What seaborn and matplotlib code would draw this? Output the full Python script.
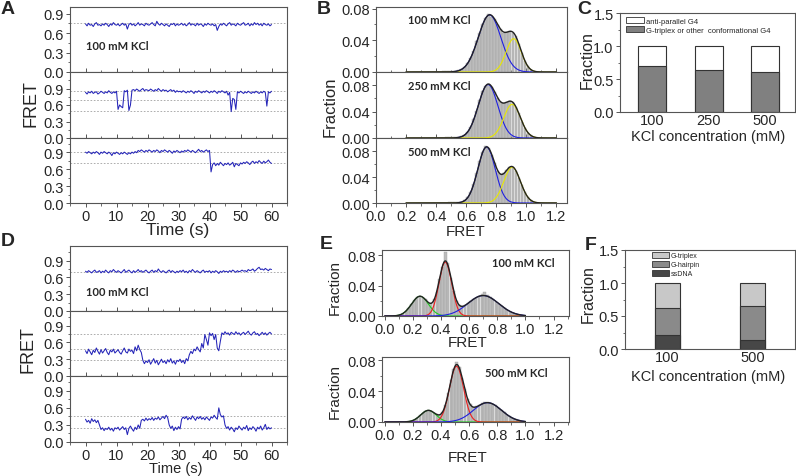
import numpy as np
import matplotlib
matplotlib.use("Agg")
import matplotlib.pyplot as plt
from matplotlib.patches import Patch
from matplotlib.ticker import MultipleLocator, FixedLocator
import seaborn as sns

sns.set_style("ticks")
plt.rcParams['font.family'] = ['Liberation Sans', 'DejaVu Sans']

# ---------------- data ----------------
# smFRET traces, sampled every 0.5 s from 0 to 60 s
TIME = np.arange(0, 60.25, 0.5)

A_TRACE_1 = [0.74, 0.71, 0.75, 0.72, 0.73, 0.70, 0.74, 0.76, 0.72, 0.73, 0.71, 0.74, 0.72, 0.75, 0.73, 0.70, 0.74, 0.72, 0.76, 0.73, 0.72,
             0.74, 0.71, 0.73, 0.75, 0.72, 0.74, 0.66, 0.73, 0.75, 0.72, 0.74, 0.71, 0.73, 0.76, 0.72, 0.74, 0.73, 0.71, 0.75, 0.73,
             0.72, 0.74, 0.76, 0.73, 0.71, 0.78, 0.74, 0.72, 0.75, 0.73, 0.71, 0.74, 0.72, 0.70, 0.74, 0.73, 0.75, 0.71, 0.74, 0.72,
             0.73, 0.75, 0.72, 0.74, 0.71, 0.73, 0.76, 0.72, 0.74, 0.73, 0.71, 0.75, 0.72, 0.74, 0.73, 0.70, 0.74, 0.72, 0.75, 0.73,
             0.72, 0.74, 0.71, 0.73, 0.64, 0.70, 0.74, 0.72, 0.75, 0.73, 0.71, 0.74, 0.76, 0.72, 0.74, 0.73, 0.71, 0.75, 0.73, 0.72,
             0.74, 0.76, 0.72, 0.73, 0.75, 0.71, 0.74, 0.72, 0.76, 0.73, 0.75, 0.72, 0.74, 0.71, 0.75, 0.73, 0.72, 0.74, 0.71, 0.73]
A_TRACE_2 = [0.83, 0.80, 0.84, 0.82, 0.85, 0.81, 0.83, 0.84, 0.80, 0.82, 0.85, 0.83, 0.81, 0.84, 0.82, 0.86, 0.83, 0.81, 0.84, 0.82, 0.85,
             0.52, 0.60, 0.57, 0.55, 0.86, 0.84, 0.87, 0.50, 0.60, 0.87, 0.88, 0.86, 0.89, 0.87, 0.85, 0.88, 0.90, 0.86, 0.88, 0.87,
             0.86, 0.89, 0.87, 0.85, 0.88, 0.86, 0.90, 0.87, 0.85, 0.88, 0.86, 0.87, 0.84, 0.86, 0.88, 0.85, 0.87, 0.83, 0.86, 0.84,
             0.85, 0.83, 0.86, 0.84, 0.82, 0.85, 0.83, 0.86, 0.84, 0.81, 0.85, 0.83, 0.86, 0.84, 0.82, 0.85, 0.83, 0.86, 0.84, 0.82,
             0.85, 0.83, 0.86, 0.84, 0.81, 0.85, 0.83, 0.86, 0.84, 0.82, 0.85, 0.78, 0.83, 0.48, 0.72, 0.70, 0.52, 0.84, 0.82, 0.85,
             0.83, 0.81, 0.84, 0.82, 0.85, 0.83, 0.81, 0.84, 0.82, 0.85, 0.83, 0.81, 0.84, 0.82, 0.85, 0.83, 0.58, 0.84, 0.82, 0.85]
A_TRACE_3 = [0.90, 0.88, 0.91, 0.89, 0.87, 0.90, 0.88, 0.91, 0.89, 0.86, 0.90, 0.88, 0.91, 0.89, 0.87, 0.90, 0.88, 0.84, 0.89, 0.87, 0.90,
             0.88, 0.86, 0.89, 0.87, 0.90, 0.88, 0.86, 0.89, 0.87, 0.90, 0.88, 0.91, 0.89, 0.93, 0.91, 0.94, 0.92, 0.90, 0.93, 0.91,
             0.94, 0.92, 0.90, 0.93, 0.91, 0.94, 0.92, 0.89, 0.93, 0.91, 0.94, 0.92, 0.90, 0.93, 0.91, 0.88, 0.92, 0.90, 0.93, 0.91,
             0.89, 0.92, 0.90, 0.93, 0.91, 0.94, 0.92, 0.90, 0.93, 0.91, 0.89, 0.92, 0.95, 0.91, 0.93, 0.90, 0.92, 0.94, 0.91, 0.93,
             0.55, 0.68, 0.71, 0.66, 0.70, 0.67, 0.72, 0.69, 0.66, 0.70, 0.68, 0.71, 0.67, 0.69, 0.72, 0.64, 0.70, 0.68, 0.66, 0.71,
             0.69, 0.72, 0.70, 0.73, 0.71, 0.68, 0.72, 0.74, 0.70, 0.73, 0.71, 0.75, 0.72, 0.70, 0.74, 0.71, 0.73, 0.76, 0.72, 0.70]
D_TRACE_1 = [0.71, 0.69, 0.72, 0.70, 0.68, 0.71, 0.73, 0.69, 0.70, 0.72, 0.68, 0.71, 0.69, 0.73, 0.70, 0.68, 0.72, 0.70, 0.74, 0.71, 0.69,
             0.72, 0.70, 0.68, 0.71, 0.74, 0.69, 0.71, 0.73, 0.70, 0.68, 0.72, 0.69, 0.71, 0.74, 0.70, 0.72, 0.69, 0.71, 0.73, 0.70,
             0.68, 0.71, 0.73, 0.69, 0.72, 0.70, 0.75, 0.71, 0.69, 0.72, 0.70, 0.68, 0.71, 0.73, 0.69, 0.72, 0.70, 0.68, 0.71, 0.69,
             0.72, 0.70, 0.73, 0.69, 0.71, 0.68, 0.72, 0.70, 0.74, 0.71, 0.69, 0.72, 0.70, 0.68, 0.71, 0.73, 0.69, 0.71, 0.70, 0.72,
             0.68, 0.71, 0.69, 0.72, 0.70, 0.67, 0.71, 0.69, 0.72, 0.70, 0.71, 0.69, 0.72, 0.70, 0.73, 0.71, 0.69, 0.72, 0.70, 0.71,
             0.73, 0.71, 0.72, 0.70, 0.74, 0.72, 0.73, 0.75, 0.71, 0.73, 0.76, 0.78, 0.74, 0.75, 0.73, 0.76, 0.74, 0.72, 0.75, 0.74]
D_TRACE_2 = [0.45, 0.40, 0.48, 0.43, 0.38, 0.46, 0.42, 0.50, 0.44, 0.39, 0.47, 0.41, 0.45, 0.49, 0.42, 0.38, 0.46, 0.43, 0.48, 0.41, 0.44,
             0.47, 0.42, 0.39, 0.45, 0.50, 0.43, 0.41, 0.48, 0.44, 0.46, 0.40, 0.52, 0.45, 0.55, 0.47, 0.42, 0.28, 0.22, 0.27, 0.24,
             0.29, 0.21, 0.26, 0.31, 0.23, 0.28, 0.20, 0.25, 0.30, 0.24, 0.27, 0.22, 0.29, 0.25, 0.31, 0.23, 0.27, 0.21, 0.28, 0.26,
             0.30, 0.24, 0.28, 0.22, 0.31, 0.27, 0.38, 0.44, 0.40, 0.48, 0.45, 0.52, 0.47, 0.43, 0.58, 0.50, 0.74, 0.65, 0.55, 0.77,
             0.72, 0.76, 0.65, 0.74, 0.50, 0.45, 0.62, 0.77, 0.74, 0.79, 0.75, 0.77, 0.73, 0.78, 0.76, 0.74, 0.79, 0.75, 0.77, 0.73,
             0.76, 0.78, 0.74, 0.77, 0.80, 0.75, 0.73, 0.77, 0.79, 0.74, 0.76, 0.72, 0.75, 0.78, 0.74, 0.77, 0.73, 0.76, 0.78, 0.75]
D_TRACE_3 = [0.40, 0.35, 0.38, 0.33, 0.41, 0.36, 0.39, 0.34, 0.38, 0.30, 0.22, 0.25, 0.20, 0.24, 0.22, 0.26, 0.21, 0.24, 0.19, 0.25, 0.23,
             0.26, 0.21, 0.24, 0.27, 0.22, 0.25, 0.13, 0.24, 0.28, 0.23, 0.19, 0.26, 0.22, 0.30, 0.24, 0.38, 0.40, 0.37, 0.42, 0.38,
             0.41, 0.39, 0.43, 0.38, 0.42, 0.40, 0.44, 0.39, 0.42, 0.45, 0.41, 0.47, 0.43, 0.30, 0.24, 0.28, 0.20, 0.26, 0.22, 0.27,
             0.23, 0.40, 0.44, 0.41, 0.45, 0.39, 0.43, 0.40, 0.46, 0.42, 0.38, 0.44, 0.41, 0.45, 0.40, 0.43, 0.39, 0.44, 0.41, 0.38,
             0.44, 0.42, 0.47, 0.43, 0.40, 0.60, 0.48, 0.44, 0.46, 0.30, 0.24, 0.27, 0.21, 0.26, 0.23, 0.18, 0.25, 0.22, 0.28, 0.24,
             0.21, 0.26, 0.23, 0.29, 0.20, 0.25, 0.22, 0.27, 0.24, 0.19, 0.26, 0.23, 0.28, 0.21, 0.25, 0.31, 0.22, 0.26, 0.23, 0.25]

A_LEVELS = [[0.75], [0.86, 0.70, 0.50], [0.90, 0.70]]
D_LEVELS = [[0.70], [0.75, 0.48, 0.28], [0.45, 0.25]]

# FRET histograms (bin width 0.02)
B_BIN_START = 0.40
B_HIST_100 = [0.0005, 0.0006, 0.0008, 0.0010, 0.0012, 0.0015, 0.0018, 0.0022, 0.0036, 0.0062,
              0.0108, 0.0182, 0.0265, 0.0385, 0.0490, 0.0608, 0.0675, 0.0735, 0.0700, 0.0670,
              0.0590, 0.0540, 0.0498, 0.0508, 0.0515, 0.0498, 0.0452, 0.0348, 0.0242, 0.0138,
              0.0072, 0.0030, 0.0012, 0.0005, 0.0003, 0.0002, 0.0001, 0, 0, 0]
B_HIST_250 = [0.0004, 0.0005, 0.0007, 0.0009, 0.0011, 0.0013, 0.0016, 0.0020, 0.0024, 0.0048,
              0.0095, 0.0172, 0.0282, 0.0410, 0.0570, 0.0705, 0.0795, 0.0825, 0.0770, 0.0690,
              0.0600, 0.0540, 0.0528, 0.0548, 0.0562, 0.0545, 0.0470, 0.0375, 0.0250, 0.0158,
              0.0082, 0.0040, 0.0016, 0.0006, 0.0002, 0.0001, 0, 0, 0, 0]
B_HIST_500 = [0.0003, 0.0004, 0.0005, 0.0006, 0.0008, 0.0010, 0.0011, 0.0012, 0.0018, 0.0040,
              0.0086, 0.0170, 0.0298, 0.0462, 0.0640, 0.0790, 0.0880, 0.0840, 0.0740, 0.0612,
              0.0490, 0.0440, 0.0458, 0.0510, 0.0552, 0.0560, 0.0498, 0.0390, 0.0270, 0.0168,
              0.0090, 0.0042, 0.0018, 0.0006, 0.0002, 0.0001, 0, 0, 0, 0]
# Gaussian fit parameters (center, sigma, amplitude): blue, yellow
B_FIT_100 = [(0.755, 0.075, 0.072), (0.915, 0.050, 0.042)]
B_FIT_250 = [(0.745, 0.065, 0.081), (0.905, 0.055, 0.051)]
B_FIT_500 = [(0.735, 0.058, 0.086), (0.905, 0.055, 0.055)]

E_BIN_START = 0.0
E_HIST_100 = [0, 0, 0, 0.0003, 0.0006, 0.0015, 0.0032, 0.0070, 0.0112, 0.0160,
              0.0205, 0.0252, 0.0268, 0.0240, 0.0218, 0.0175, 0.0170, 0.0225, 0.0320, 0.0490,
              0.0640, 0.0845, 0.0700, 0.0500, 0.0325, 0.0200, 0.0150, 0.0135, 0.0148, 0.0172,
              0.0200, 0.0228, 0.0235, 0.0262, 0.0285, 0.0320, 0.0275, 0.0248, 0.0218, 0.0190,
              0.0160, 0.0130, 0.0105, 0.0078, 0.0058, 0.0040, 0.0028, 0.0018, 0.0008, 0.0004]
E_HIST_500 = [0, 0, 0, 0, 0, 0.0001, 0.0002, 0.0004, 0.0008, 0.0016,
              0.0030, 0.0055, 0.0085, 0.0118, 0.0142, 0.0155, 0.0138, 0.0115, 0.0100, 0.0090,
              0.0130, 0.0225, 0.0370, 0.0540, 0.0680, 0.0780, 0.0705, 0.0575, 0.0425, 0.0300,
              0.0228, 0.0200, 0.0205, 0.0225, 0.0240, 0.0255, 0.0262, 0.0250, 0.0236, 0.0214,
              0.0186, 0.0155, 0.0125, 0.0096, 0.0072, 0.0052, 0.0035, 0.0022, 0.0012, 0.0006]
# green, red, blue
E_FIT_100 = [(0.25, 0.060, 0.026), (0.43, 0.045, 0.071), (0.70, 0.110, 0.027)]
E_FIT_500 = [(0.31, 0.055, 0.015), (0.51, 0.050, 0.072), (0.73, 0.100, 0.025)]

# population fractions
C_KCL = ["100", "250", "500"]
C_TRIPLEX = [0.70, 0.64, 0.60]
C_ANTIPARALLEL = [0.30, 0.36, 0.40]

F_KCL = ["100", "500"]
F_SSDNA = [0.21, 0.13]
F_HAIRPIN = [0.41, 0.52]
F_TRIPLEX = [0.38, 0.35]

# ---------------- figure ----------------
W, H = 796, 477
fig = plt.figure(figsize=(W / 100, H / 100), dpi=100)

SPINE = '#555555'
TRACE_COLOR = '#2424b8'
LABEL_FONT = ['Lato', 'DejaVu Sans']


def px_ax(x0, y0, x1, y1):
    ax = fig.add_axes([x0 / W, 1 - y1 / H, (x1 - x0) / W, (y1 - y0) / H])
    for s in ax.spines.values():
        s.set_color(SPINE)
        s.set_linewidth(0.8)
    ax.tick_params(which='major', length=3, width=0.7, color=SPINE, labelsize=10.5, pad=1.5)
    ax.tick_params(which='minor', length=1.8, width=0.6, color=SPINE)
    return ax


def ftext(x, y, s, **kw):
    fig.text(x / W, 1 - y / H, s, ha='center', va='center', **kw)


def gauss(x, mu, sd, amp):
    return amp * np.exp(-(x - mu) ** 2 / (2 * sd ** 2))


def trace_panel(rect, values, levels, ylim, bottom):
    ax = px_ax(*rect)
    for lv in levels:
        ax.axhline(lv, color='#a0a0a0', lw=0.6, ls=(0, (2, 2)), zorder=1)
    sns.lineplot(x=TIME, y=values, ax=ax, color=TRACE_COLOR, lw=0.75, zorder=2)
    ax.set_xlim(-5, 65)
    ax.set_ylim(*ylim)
    ax.xaxis.set_major_locator(MultipleLocator(10))
    ax.xaxis.set_minor_locator(MultipleLocator(5))
    ax.yaxis.set_major_locator(FixedLocator([0, 0.3, 0.6, 0.9]))
    ax.yaxis.set_minor_locator(FixedLocator([0.15, 0.45, 0.75, 1.05]))
    ax.set_xlabel('')
    ax.set_ylabel('')
    if not bottom:
        ax.tick_params(axis='x', which='both', direction='in', labelbottom=False)
    return ax


def hist_panel(rect, start, bars, fits, colors, xr, ylim, xlim, bottom=True):
    ax = px_ax(*rect)
    centers = start + 0.01 + 0.02 * np.arange(len(bars))
    sns.histplot(x=centers, weights=bars, binwidth=0.02,
                 binrange=(start, start + 0.02 * len(bars)),
                 color='#bcbcbc', edgecolor='#a0a0a0', linewidth=0.3,
                 alpha=1, shrink=0.9, ax=ax, zorder=1)
    grid = np.linspace(xr[0], xr[1], 301)
    total = np.zeros_like(grid)
    for (mu, sd, amp), c in zip(fits, colors):
        comp = gauss(grid, mu, sd, amp)
        total += comp
        sns.lineplot(x=grid, y=comp, ax=ax, color=c, lw=0.8, zorder=3)
    sns.lineplot(x=grid, y=total, ax=ax, color='#222222', lw=1.0, zorder=4)
    ax.set_xlim(*xlim)
    ax.set_ylim(*ylim)
    ax.xaxis.set_major_locator(MultipleLocator(0.2))
    ax.xaxis.set_minor_locator(MultipleLocator(0.1))
    ax.yaxis.set_major_locator(FixedLocator([0, 0.04, 0.08]))
    ax.yaxis.set_minor_locator(FixedLocator([0.02, 0.06]))
    ax.set_xlabel('')
    ax.set_ylabel('')
    if not bottom:
        ax.tick_params(axis='x', which='both', direction='in', labelbottom=False)
    return ax


def bar_axes_style(ax, xlim):
    ax.set_xlim(*xlim)
    ax.set_ylim(0, 1.5)
    ax.yaxis.set_major_locator(FixedLocator([0, 0.5, 1.0, 1.5]))
    ax.yaxis.set_minor_locator(FixedLocator([0.25, 0.75, 1.25]))
    ax.tick_params(axis='x', length=0, pad=0.5)
    ax.set_xlabel('')
    ax.set_ylabel('')


# ---- A ----
a_rects = [(70, 8, 287, 73), (70, 73, 287, 139), (70, 139, 287, 204)]
a_ylims = [(0, 1.0), (0, 1.2), (0, 1.15)]
for i, tr in enumerate([A_TRACE_1, A_TRACE_2, A_TRACE_3]):
    ax = trace_panel(a_rects[i], tr, A_LEVELS[i], a_ylims[i], bottom=(i == 2))
    if i == 0:
        ax.text(0, 0.40, '100 mM KCl', fontsize=8, fontweight='bold', family=LABEL_FONT, va='center')
ftext(31, 104, 'FRET', rotation=90, fontsize=13)
ftext(178, 231, 'Time (s)', fontsize=12.5)

# ---- D ----
d_rects = [(70, 247, 287, 312), (70, 312, 287, 377), (70, 377, 287, 443)]
for i, tr in enumerate([D_TRACE_1, D_TRACE_2, D_TRACE_3]):
    ax = trace_panel(d_rects[i], tr, D_LEVELS[i], (0, 1.16), bottom=(i == 2))
    if i == 0:
        ax.text(0, 0.34, '100 mM KCl', fontsize=8, fontweight='bold', family=LABEL_FONT, va='center')
ftext(28, 350, 'FRET', rotation=90, fontsize=13)
ftext(176, 469, 'Time (s)', fontsize=10.5)

# ---- B ----
b_rects = [(376, 8, 567, 73), (376, 73, 567, 139), (376, 139, 567, 204)]
b_ylims = [(0, 0.082), (0, 0.10), (0, 0.10)]
b_text_y = [0.066, 0.079, 0.080]
for i, (hist, fit, lab) in enumerate(zip([B_HIST_100, B_HIST_250, B_HIST_500],
                                         [B_FIT_100, B_FIT_250, B_FIT_500],
                                         ['100 mM KCl', '250 mM KCl', '500 mM KCl'])):
    ax = hist_panel(b_rects[i], B_BIN_START, hist, fit, ['#2020e0', '#e8e800'],
                    (0.2, 1.2), b_ylims[i], (0, 1.27), bottom=(i == 2))
    ax.text(0.21, b_text_y[i], lab, fontsize=8, fontweight='bold', family=LABEL_FONT, va='center')
ftext(330, 107, 'Fraction', rotation=90, fontsize=12)
ftext(466, 232, 'FRET', fontsize=11)

# ---- E ----
ax = hist_panel((382, 251, 569, 317), E_BIN_START, E_HIST_100, E_FIT_100,
                ['#20cc20', '#ee2020', '#2020e0'], (0.0, 1.0), (0, 0.087), (-0.02, 1.31))
ax.text(0.76, 0.071, '100 mM KCl', fontsize=8, fontweight='bold', family=LABEL_FONT, va='center')
ax = hist_panel((382, 358, 569, 423), E_BIN_START, E_HIST_500, E_FIT_500,
                ['#20cc20', '#ee2020', '#2020e0'], (0.0, 1.0), (0, 0.084), (-0.02, 1.31))
ax.text(0.71, 0.0646, '500 mM KCl', fontsize=8, fontweight='bold', family=LABEL_FONT, va='center')
ftext(335, 288, 'Fraction', rotation=90, fontsize=11)
ftext(468, 343, 'FRET', fontsize=11)
ftext(335, 392, 'Fraction', rotation=90, fontsize=11)
ftext(468, 458, 'FRET', fontsize=11)

# ---- C ----
ax = px_ax(620, 14, 795, 113)
c_total = [t + a for t, a in zip(C_TRIPLEX, C_ANTIPARALLEL)]
sns.barplot(x=C_KCL, y=c_total, color='white', edgecolor='#333333', linewidth=0.8,
            width=0.5, saturation=1, ax=ax)
sns.barplot(x=C_KCL, y=C_TRIPLEX, color='#808080', edgecolor='#333333', linewidth=0.8,
            width=0.5, saturation=1, ax=ax)
bar_axes_style(ax, (-0.57, 2.53))
ax.legend(handles=[Patch(facecolor='white', edgecolor='#333333', lw=0.6, label='anti-parallel G4'),
                   Patch(facecolor='#808080', edgecolor='#333333', lw=0.6,
                         label='G-triplex or other  conformational G4')],
          loc='upper left', bbox_to_anchor=(626 / W, 1 - 18 / H), bbox_transform=fig.transFigure,
          frameon=False, fontsize=5.5, handlelength=2.3, handleheight=0.8,
          borderaxespad=0, borderpad=0, labelspacing=0.25, handletextpad=0.3)
ftext(587, 60, 'Fraction', rotation=90, fontsize=11.5)
ftext(708, 137, 'KCl concentration (mM)', fontsize=10.5)

# ---- F ----
ax = px_ax(625, 251, 795, 350)
f_mid = [s + h for s, h in zip(F_SSDNA, F_HAIRPIN)]
f_top = [m + t for m, t in zip(f_mid, F_TRIPLEX)]
sns.barplot(x=F_KCL, y=f_top, color='#c8c8c8', edgecolor='#333333', linewidth=0.8,
            width=0.3, saturation=1, ax=ax)
sns.barplot(x=F_KCL, y=f_mid, color='#8a8a8a', edgecolor='#333333', linewidth=0.8,
            width=0.3, saturation=1, ax=ax)
sns.barplot(x=F_KCL, y=F_SSDNA, color='#474747', edgecolor='#333333', linewidth=0.8,
            width=0.3, saturation=1, ax=ax)
bar_axes_style(ax, (-0.5, 1.5))
ax.legend(handles=[Patch(facecolor='#c8c8c8', edgecolor='#333333', lw=0.6, label='G-triplex'),
                   Patch(facecolor='#8a8a8a', edgecolor='#333333', lw=0.6, label='G-hairpin'),
                   Patch(facecolor='#474747', edgecolor='#333333', lw=0.6, label='ssDNA')],
          loc='upper left', bbox_to_anchor=(652 / W, 1 - 253 / H), bbox_transform=fig.transFigure,
          frameon=False, fontsize=5, handlelength=2.4, handleheight=0.9,
          borderaxespad=0, borderpad=0, labelspacing=0.25, handletextpad=0.3)
ftext(588, 294, 'Fraction', rotation=90, fontsize=11.5)
ftext(708, 377, 'KCl concentration (mM)', fontsize=10.5)

# ---- panel letters ----
for letter, (x, y) in {'A': (8, 9), 'B': (324, 10), 'C': (584, 9),
                       'D': (8, 242), 'E': (326, 245), 'F': (591, 246)}.items():
    ftext(x, y, letter, fontsize=14, fontweight='bold')

fig.savefig('out.png', dpi=100)
